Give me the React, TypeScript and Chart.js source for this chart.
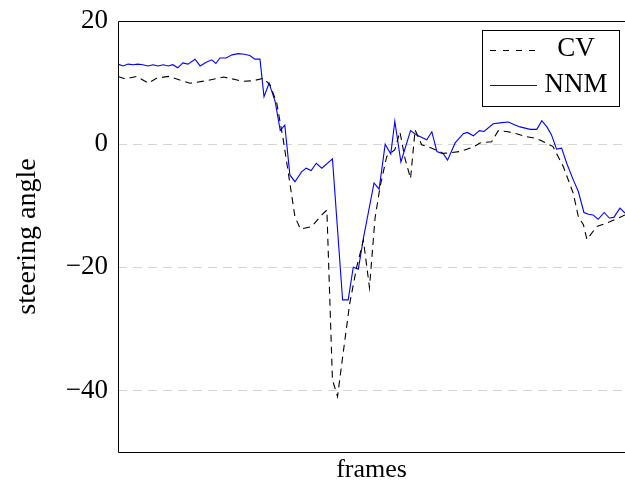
import React, { useEffect, useRef } from "react";
import { Chart, registerables } from "chart.js";

Chart.register(...registerables);

// frame positions and steering-angle values
const cvFrames = [0.0, 1.4, 3.7, 6.0, 7.6, 9.9, 11.9, 14.2, 17.5, 20.8, 23.1, 24.4, 26.7, 28.7, 30.0, 31.3, 32.6, 33.8, 34.9, 36.0, 38.2, 40.2, 41.2, 42.3, 43.3, 44.4, 45.7, 47.1, 48.4, 49.6, 50.7, 51.7, 53.0, 54.6, 55.6, 56.6, 57.7, 58.6, 59.9, 61.9, 64.2, 67.5, 70.0, 71.4, 73.7, 75.0, 76.7, 78.6, 80.6, 82.6, 83.9, 85.8, 87.8, 89.8, 90.8, 91.8, 92.5, 94.4, 97.0, 98.7, 100.0];
const cvValues = [11.0, 10.6, 11.0, 9.9, 10.7, 11.0, 10.5, 9.9, 10.3, 10.9, 10.5, 10.2, 10.3, 10.7, 9.6, 6.7, 0.7, -5.8, -11.8, -13.8, -13.4, -11.5, -10.7, -38.3, -41.0, -34.0, -25.9, -19.9, -15.6, -23.3, -12.0, -6.9, -2.0, -0.9, 2.0, -2.3, -5.6, 2.3, -0.1, -0.65, -1.5, -1.2, -0.5, 0.2, 0.4, 2.2, 2.05, 1.7, 1.2, 0.9, 0.4, -0.4, -3.6, -8.0, -11.8, -13.1, -15.5, -13.4, -12.6, -12.0, -11.5];

const nnmFrames = [0.0, 1.0, 2.0, 3.0, 3.9, 4.9, 5.9, 6.9, 7.9, 8.9, 9.9, 10.8, 11.8, 12.8, 13.8, 15.2, 16.2, 17.4, 18.5, 19.3, 20.1, 21.3, 22.5, 23.7, 24.9, 26.0, 27.0, 28.0, 28.8, 29.8, 31.0, 32.0, 32.9, 33.9, 34.9, 36.2, 37.1, 38.1, 39.1, 40.2, 42.3, 44.3, 45.4, 46.4, 47.4, 48.4, 50.5, 51.5, 52.7, 53.8, 54.6, 55.8, 57.7, 58.9, 60.9, 61.9, 62.9, 64.2, 65.0, 66.5, 68.1, 68.9, 70.1, 71.3, 72.2, 74.0, 75.7, 77.0, 78.3, 79.3, 81.3, 82.6, 83.6, 84.6, 85.5, 86.5, 87.5, 88.5, 89.8, 90.8, 91.9, 92.8, 93.7, 94.7, 95.9, 96.9, 97.8, 99.0, 100.0];
const nnmValues = [13.0, 12.7, 13.0, 12.9, 13.0, 12.9, 12.7, 12.9, 12.7, 12.9, 12.7, 12.9, 12.4, 13.2, 13.0, 13.8, 12.7, 13.3, 13.7, 13.1, 14.0, 14.0, 14.5, 14.7, 14.6, 14.4, 13.8, 13.8, 7.7, 9.9, 6.9, 2.2, 3.1, -5.0, -6.1, -4.5, -3.9, -4.3, -3.1, -3.9, -2.4, -25.3, -25.3, -20.0, -20.3, -15.3, -6.3, -7.3, 0.0, -1.6, 3.7, -2.9, 2.2, 1.5, 0.7, 2.0, -1.2, -1.6, -2.6, 0.2, 1.7, 1.9, 1.35, 2.2, 2.05, 3.3, 3.5, 3.6, 3.1, 2.8, 2.4, 2.4, 3.8, 2.8, 1.5, -0.8, -0.65, -3.1, -5.8, -7.7, -11.1, -11.4, -11.5, -12.2, -11.1, -12.0, -11.9, -10.4, -11.2];

const yTicks = [-40, -20, 0, 20];
const seriesLabels = ["CV", "NNM"];
const xTitle = "frames";
const yTitle = "steering angle";

const FONT = '"Liberation Serif", "DejaVu Serif", serif';

export default function App() {
  const ref = useRef<HTMLCanvasElement | null>(null);

  useEffect(() => {
    document.body.style.margin = "0";
    const canvas = ref.current!;
    const decor = {
      id: "decor",
      afterDraw(chart: any) {
        const { ctx, chartArea } = chart;
        const { left, top, right, bottom } = chartArea;
        ctx.save();
        // frame (left, top, bottom)
        ctx.strokeStyle = "#000";
        ctx.lineWidth = 1;
        ctx.setLineDash([]);
        ctx.beginPath();
        ctx.moveTo(right + 2, top + 0.5);
        ctx.lineTo(left + 0.5, top + 0.5);
        ctx.lineTo(left + 0.5, bottom + 0.5);
        ctx.lineTo(right + 2, bottom + 0.5);
        ctx.stroke();
        // axis titles
        ctx.fillStyle = "#000";
        ctx.font = `26px ${FONT}`;
        ctx.textAlign = "center";
        ctx.textBaseline = "middle";
        ctx.fillText(xTitle, (left + right) / 2, 470);
        ctx.save();
        ctx.font = `28px ${FONT}`;
        ctx.translate(28, (top + bottom) / 2);
        ctx.rotate(-Math.PI / 2);
        ctx.fillText(yTitle, 0, 0);
        ctx.restore();
        // legend
        const bx = 482.5, by = 30.5, bw = 137, bh = 76;
        ctx.fillStyle = "#fff";
        ctx.fillRect(bx, by, bw, bh);
        ctx.strokeStyle = "#000";
        ctx.strokeRect(bx, by, bw, bh);
        ctx.lineWidth = 1.1;
        ctx.strokeStyle = "#000";
        ctx.setLineDash([6, 7]);
        ctx.beginPath();
        ctx.moveTo(490, 50.5);
        ctx.lineTo(537, 50.5);
        ctx.stroke();
        ctx.setLineDash([]);
        ctx.strokeStyle = "rgb(0,0,255)";
        ctx.beginPath();
        ctx.moveTo(490, 85.5);
        ctx.lineTo(537, 85.5);
        ctx.stroke();
        ctx.fillStyle = "#000";
        ctx.font = `27px ${FONT}`;
        ctx.textAlign = "center";
        ctx.fillText(seriesLabels[0], 576, 49);
        ctx.fillText(seriesLabels[1], 576, 85);
        ctx.restore();
      },
    };

    const chart = new Chart(canvas, {
      type: "line",
      data: {
        datasets: [
          {
            label: seriesLabels[0],
            data: cvFrames.map((f, i) => ({ x: f, y: cvValues[i] })),
            borderColor: "#000",
            borderWidth: 1.1,
            borderDash: [7, 5],
            pointRadius: 0,
            tension: 0,
          },
          {
            label: seriesLabels[1],
            data: nnmFrames.map((f, i) => ({ x: f, y: nnmValues[i] })),
            borderColor: "rgb(0,0,255)",
            borderWidth: 1.1,
            pointRadius: 0,
            tension: 0,
          },
        ],
      },
      options: {
        animation: false,
        responsive: false,
        events: [],
        layout: { padding: { top: 21, right: 0, left: 0, bottom: 0 } },
        plugins: { legend: { display: false }, tooltip: { enabled: false } },
        scales: {
          x: {
            type: "linear",
            min: 0,
            max: 100,
            ticks: { display: false },
            grid: { display: false, drawTicks: false },
            border: { display: false },
            afterFit(scale: any) {
              scale.height = 35;
            },
          },
          y: {
            min: -50,
            max: 20,
            afterBuildTicks(scale: any) {
              scale.ticks = yTicks.map((v) => ({ value: v }));
            },
            ticks: {
              color: "#000",
              font: { family: FONT, size: 27, lineHeight: 0.7 },
              padding: 10,
              callback: (v: any) => (Number(v) < 0 ? "\u2212" + Math.abs(Number(v)) : String(v)),
            },
            grid: {
              drawTicks: false,
              color: (c: any) => (c.tick && c.tick.value === 20 ? "rgba(0,0,0,0)" : "#d4d4d4"),
              lineWidth: 1,
            },
            border: { display: false, dash: [9, 6] },
            afterFit(scale: any) {
              scale.width = 118;
            },
          },
        },
      },
      plugins: [decor],
    } as any);
    return () => chart.destroy();
  }, []);

  return <canvas ref={ref} width={625} height={487} style={{ display: "block" }} />;
}
